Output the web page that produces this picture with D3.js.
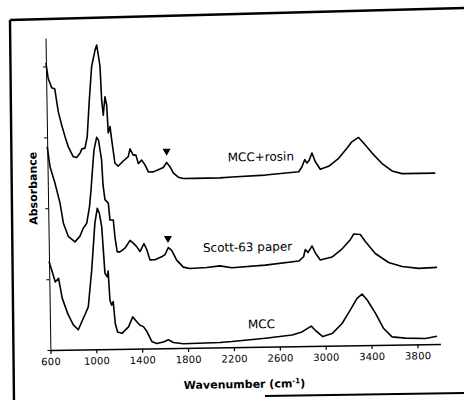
<!DOCTYPE html>
<html>
<head>
<meta charset="utf-8">
<script src="https://cdn.jsdelivr.net/npm/d3@7"></script>
<style>
    body { margin: 0; background: #fff; }
    .axis path, .axis line { stroke: #000; }
    .axis text { font-family: "DejaVu Sans"; font-size: 10px; fill: #000; }
    .line { fill: none; stroke: #000; stroke-width: 1.6px; stroke-linejoin: round; }
    .label { font-family: "DejaVu Sans"; font-size: 12px; fill: #000; }
    .title { font-family: "DejaVu Sans"; font-size: 11px; font-weight: bold; fill: #000; }
</style>
</head>
<body>
<script>
// spectra (stacked, in y-axis units)
var seriesNames = ["MCC+rosin", "Scott-63 paper", "MCC"];

var rosinWn  = [600, 618, 647, 674, 701, 729, 756, 784, 826, 855, 885, 902, 929, 950, 973, 998, 1030, 1045, 1058, 1071, 1081, 1093, 1110, 1124, 1134, 1150, 1163, 1188, 1217, 1261, 1305, 1321, 1349, 1372, 1392, 1421, 1450, 1478, 1521, 1565, 1609, 1639, 1667, 1695, 1738, 1782, 1869, 2102, 2207, 2497, 2789, 2818, 2843, 2862, 2882, 2907, 2934, 2977, 3050, 3139, 3212, 3256, 3315, 3358, 3429, 3514, 3602, 3688, 3834, 3979];
var rosinAbs = [4.05, 3.83, 3.70, 3.68, 3.36, 3.17, 3.01, 2.86, 2.72, 2.71, 2.77, 2.83, 2.84, 3.00, 3.51, 3.99, 4.22, 4.29, 4.15, 3.99, 3.51, 3.30, 3.56, 3.44, 3.05, 3.14, 2.95, 2.62, 2.58, 2.65, 2.71, 2.82, 2.73, 2.73, 2.61, 2.66, 2.59, 2.49, 2.49, 2.52, 2.55, 2.62, 2.56, 2.47, 2.41, 2.39, 2.39, 2.39, 2.40, 2.42, 2.46, 2.53, 2.63, 2.58, 2.62, 2.72, 2.60, 2.49, 2.53, 2.64, 2.78, 2.87, 2.93, 2.85, 2.71, 2.56, 2.45, 2.41, 2.41, 2.41];

var scottWn  = [600, 621, 663, 704, 730, 771, 829, 873, 903, 934, 960, 976, 991, 1007, 1032, 1048, 1072, 1081, 1096, 1125, 1137, 1166, 1178, 1196, 1220, 1264, 1309, 1337, 1366, 1394, 1430, 1453, 1480, 1524, 1582, 1612, 1642, 1671, 1713, 1770, 1827, 1974, 2090, 2194, 2484, 2777, 2820, 2835, 2859, 2895, 2923, 2965, 3067, 3155, 3229, 3260, 3317, 3360, 3445, 3560, 3677, 3821, 3982];
var scottAbs = [2.87, 2.59, 2.35, 2.07, 1.79, 1.60, 1.52, 1.60, 1.71, 1.78, 2.01, 2.25, 2.53, 2.81, 2.99, 2.95, 2.67, 2.32, 2.11, 2.06, 1.82, 1.82, 1.58, 1.37, 1.37, 1.42, 1.53, 1.49, 1.44, 1.37, 1.48, 1.40, 1.25, 1.25, 1.29, 1.32, 1.42, 1.38, 1.24, 1.14, 1.12, 1.13, 1.15, 1.12, 1.15, 1.20, 1.26, 1.36, 1.32, 1.41, 1.31, 1.21, 1.25, 1.36, 1.49, 1.57, 1.56, 1.46, 1.29, 1.16, 1.10, 1.07, 1.08];

var mccWn  = [600, 622, 652, 681, 710, 756, 803, 846, 891, 906, 936, 971, 1005, 1028, 1045, 1064, 1086, 1105, 1114, 1126, 1140, 1154, 1169, 1188, 1226, 1284, 1322, 1357, 1385, 1414, 1444, 1485, 1528, 1586, 1630, 1673, 1760, 2079, 2184, 2476, 2709, 2795, 2877, 2912, 2976, 3058, 3146, 3220, 3280, 3324, 3367, 3438, 3508, 3580, 3696, 3870, 3972];
var mccAbs = [1.25, 1.13, 0.96, 1.01, 0.73, 0.51, 0.35, 0.28, 0.44, 0.49, 0.60, 1.12, 1.78, 1.99, 1.92, 1.73, 1.07, 1.02, 1.10, 0.69, 0.62, 0.67, 0.36, 0.24, 0.22, 0.31, 0.45, 0.38, 0.33, 0.31, 0.24, 0.10, 0.07, 0.09, 0.12, 0.08, 0.06, 0.07, 0.08, 0.12, 0.16, 0.20, 0.28, 0.22, 0.13, 0.17, 0.31, 0.50, 0.66, 0.72, 0.64, 0.45, 0.23, 0.11, 0.09, 0.08, 0.11];

// label anchors and the arrow marks (wavenumber, value)
var labelWn  = [2171, 1943, 2325];
var labelAbs = [2.62, 1.35, 0.26];
var markWn   = [1640, 1640];
var markAbs  = [2.78, 1.55];

var xTicks = [600, 1000, 1400, 1800, 2200, 2600, 3000, 3400, 3800];
var yTicks = [0, 1, 2, 3, 4];

function spectraChart() {
    var _chart = {};

    var _width = 464, _height = 400,
        _margins = {top: 35, left: 48, right: 26, bottom: 53},
        _x = d3.scaleLinear().domain([600, 4000]),
        _y = d3.scaleLinear().domain([0, 4.4]),
        _svg, _bodyG;

    _chart.render = function () {
        _x.range([0, quadrantWidth()]);
        _y.range([quadrantHeight(), 0]);

        _svg = d3.select("body").append("svg")
                .attr("width", _width)
                .attr("height", _height);

        _svg.append("rect")
                .attr("width", _width)
                .attr("height", _height)
                .attr("fill", "#fff");

        renderFrame(_svg);

        // the scanned page is slightly tilted
        var page = _svg.append("g")
                .attr("transform", "rotate(-0.9,245,195)");

        _bodyG = page.append("g")
                .attr("transform", "translate(" + xStart() + "," + yEnd() + ")");

        renderAxes(_bodyG);
        renderLines(_bodyG);
        renderLabels(page);
    };

    // frame of the original figure
    function renderFrame(svg) {
        svg.append("path")
                .attr("d", "M10,20 L466,8 M10,20 L14,402")
                .attr("fill", "none")
                .attr("stroke", "#000")
                .attr("stroke-width", 2.4);

        svg.append("path")
                .attr("d", "M265,396 L466,393")
                .attr("fill", "none")
                .attr("stroke", "#000")
                .attr("stroke-width", 2);
    }

    function renderAxes(g) {
        var xAxis = d3.axisBottom(_x)
                .tickValues(xTicks)
                .tickSize(4)
                .tickPadding(4)
                .tickSizeOuter(0)
                .tickFormat(d3.format("d"));

        var yAxis = d3.axisLeft(_y)
                .tickValues(yTicks)
                .tickSize(3)
                .tickSizeOuter(0)
                .tickFormat("");

        g.append("g")
                .attr("class", "x axis")
                .attr("transform", "translate(0," + quadrantHeight() + ")")
                .call(xAxis);

        g.append("g")
                .attr("class", "y axis")
                .call(yAxis);

        g.selectAll(".x.axis path").attr("stroke-width", 1.6);
        g.selectAll(".x.axis line").attr("stroke-width", 1.2);
        g.selectAll(".y.axis path").attr("stroke-width", 1);
        g.selectAll(".y.axis line").attr("stroke-width", 1);
        g.selectAll(".x.axis text").attr("letter-spacing", "0.2px");
    }

    function renderLines(g) {
        var line = d3.line()
                .x(function (d) { return _x(d[0]); })
                .y(function (d) { return _y(d[1]); });

        var series = [d3.zip(rosinWn, rosinAbs),
                      d3.zip(scottWn, scottAbs),
                      d3.zip(mccWn, mccAbs)];

        g.selectAll("path.line")
                .data(series)
                .enter()
                .append("path")
                .attr("class", "line")
                .attr("d", line);

        // down triangles over the 1640 band
        g.selectAll("path.mark")
                .data(d3.zip(markWn, markAbs))
                .enter()
                .append("path")
                .attr("class", "mark")
                .attr("d", d3.symbol().type(d3.symbolTriangle).size(28))
                .attr("transform", function (d) {
                    return "translate(" + _x(d[0]) + "," + _y(d[1]) + ") rotate(180)";
                })
                .attr("fill", "#000");

        g.selectAll("text.label")
                .data(seriesNames)
                .enter()
                .append("text")
                .attr("class", "label")
                .attr("x", function (d, i) { return _x(labelWn[i]); })
                .attr("y", function (d, i) { return _y(labelAbs[i]); })
                .text(function (d) { return d; });
    }

    function renderLabels(g) {
        g.append("text")
                .attr("class", "title")
                .attr("text-anchor", "middle")
                .attr("transform", "translate(37,185) rotate(-90)")
                .text("Absorbance");

        var t = g.append("text")
                .attr("class", "title")
                .attr("text-anchor", "middle")
                .attr("x", 241.5)
                .attr("y", 388);
        t.append("tspan").text("Wavenumber (cm");
        t.append("tspan").attr("dy", -4).attr("font-size", "7px").text("-1");
        t.append("tspan").attr("dy", 4).text(")");
    }

    function xStart() { return _margins.left; }
    function yEnd() { return _margins.top; }
    function quadrantWidth() { return _width - _margins.left - _margins.right; }
    function quadrantHeight() { return _height - _margins.top - _margins.bottom; }

    return _chart;
}

spectraChart().render();
</script>
</body>
</html>
